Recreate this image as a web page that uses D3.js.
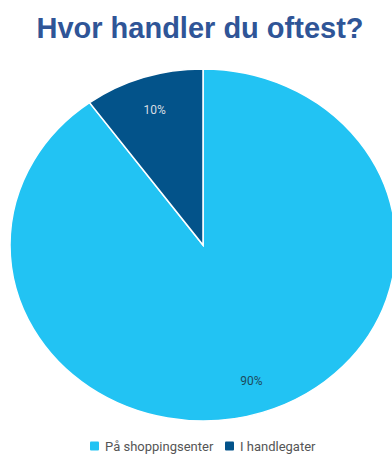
<!DOCTYPE html>
<html>
<head>
<meta charset="utf-8">
<script src="https://cdn.jsdelivr.net/npm/d3@7"></script>
<style>
  html, body { margin: 0; padding: 0; background: #fff; }
  svg { display: block; }
</style>
</head>
<body>
<svg id="chart" width="392" height="455"></svg>
<script>
// Survey answers: where people shop most often
const categories = ["På shoppingsenter", "I handlegater"];
const shares = [90, 10];
const colors = ["#22c3f3", "#03538a"];
const labelColors = ["#1d4b5e", "#d9dde3"];
const title = "Hvor handler du oftest?";

const svg = d3.select("#chart");

// Title
svg.append("text")
  .attr("x", 200)
  .attr("y", 38)
  .attr("text-anchor", "middle")
  .attr("font-family", "Liberation Sans, Arial, sans-serif")
  .attr("font-weight", "bold")
  .attr("font-size", 29)
  .attr("fill", "#2f5597")
  .text(title);

// Pie (stretched horizontally into an ellipse)
const cx = 203, cy = 245, rx = 193, ry = 176;
const pie = d3.pie().sort(null).value(d => d.value);
const arcs = pie(categories.map((c, i) => ({ name: c, value: shares[i], i })));
const arc = d3.arc().innerRadius(0).outerRadius(ry);
const labelArc = d3.arc().innerRadius(ry * 0.81).outerRadius(ry * 0.81);

const g = svg.append("g")
  .attr("transform", `translate(${cx},${cy}) scale(${rx / ry},1)`);

g.selectAll("path")
  .data(arcs)
  .join("path")
  .attr("d", arc)
  .attr("fill", d => colors[d.data.i])
  .attr("stroke", "#fff")
  .attr("stroke-width", 1.5)
  .attr("vector-effect", "non-scaling-stroke");

// Percentage labels
svg.append("g")
  .selectAll("text")
  .data(arcs)
  .join("text")
  .attr("transform", d => {
    const [x, y] = labelArc.centroid(d);
    return `translate(${cx + x * rx / ry},${cy + y})`;
  })
  .attr("text-anchor", "middle")
  .attr("dy", "0.35em")
  .attr("font-family", "Roboto, sans-serif")
  .attr("font-size", 12)
  .attr("fill", d => labelColors[d.data.i])
  .text(d => d.data.value + "%");

// Legend
const legend = svg.append("g").attr("font-family", "Roboto, sans-serif").attr("font-size", 13);
const legendX = [90, 225];
categories.forEach((c, i) => {
  const item = legend.append("g").attr("transform", `translate(${legendX[i]},446)`);
  item.append("rect")
    .attr("x", 0).attr("y", -4.5)
    .attr("width", 9).attr("height", 9)
    .attr("rx", 1)
    .attr("fill", colors[i]);
  item.append("text")
    .attr("x", 15)
    .attr("dy", "0.35em")
    .attr("fill", "#555")
    .text(c);
});
</script>
</body>
</html>
